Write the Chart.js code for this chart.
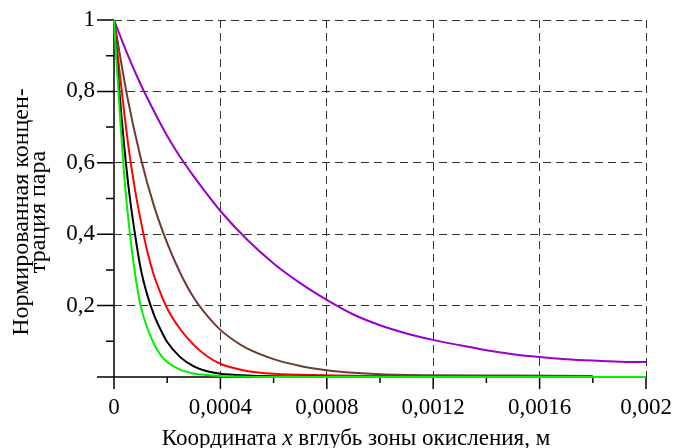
<!DOCTYPE html>
<html>
<head>
<meta charset="utf-8">
<script src="https://cdn.jsdelivr.net/npm/chart.js@4.4.0/dist/chart.umd.min.js"></script>
<style>
  html, body { margin: 0; padding: 0; background: #fff; }
</style>
</head>
<body>
<canvas id="chart" width="681" height="448"></canvas>
<script>
// ── Data ─────────────────────────────────────────────────────
const xTickLabels = ['0', '0,0004', '0,0008', '0,0012', '0,0016', '0,002'];
const yTickLabels = ['0,2', '0,4', '0,6', '0,8', '1'];

const greenX = [0, 0.00002, 0.00004, 0.00006, 0.00008, 0.0001, 0.000125, 0.00015, 0.000175, 0.0002, 0.00025, 0.0003, 0.0004, 0.0005, 0.0006, 0.002];
const greenY = [1, 0.76, 0.55, 0.4, 0.285, 0.2, 0.138, 0.093, 0.062, 0.042, 0.02, 0.01, 0.003, 0.001, 0, 0];

const blackX = [0, 0.00002, 0.00004, 0.00006, 0.00008, 0.0001, 0.000125, 0.00015, 0.000175, 0.0002, 0.00025, 0.0003, 0.00035, 0.0004, 0.0005, 0.0006, 0.0008];
const blackY = [1, 0.8, 0.635, 0.5, 0.395, 0.305, 0.23, 0.175, 0.133, 0.098, 0.055, 0.03, 0.016, 0.009, 0.004, 0.002, 0.001];

const redX = [0, 0.00002, 0.00004, 0.00006, 0.00008, 0.0001, 0.000125, 0.00015, 0.000175, 0.0002, 0.00025, 0.0003, 0.00035, 0.0004, 0.0005, 0.0006, 0.0008, 0.001, 0.00112];
const redY = [1, 0.86, 0.73, 0.615, 0.52, 0.44, 0.352, 0.285, 0.235, 0.192, 0.133, 0.09, 0.058, 0.037, 0.017, 0.009, 0.005, 0.003, 0.003];

const brownX = [0, 0.00005, 0.0001, 0.00015, 0.0002, 0.00025, 0.0003, 0.00035, 0.0004, 0.00045, 0.0005, 0.0006, 0.0007, 0.0008, 0.0009, 0.001, 0.0012, 0.0015, 0.0018];
const brownY = [1, 0.785, 0.615, 0.48, 0.375, 0.29, 0.222, 0.172, 0.132, 0.103, 0.08, 0.05, 0.031, 0.019, 0.012, 0.008, 0.005, 0.004, 0.003];

const purpleX = [0, 0.00005, 0.0001, 0.00015, 0.0002, 0.00025, 0.0003, 0.00035, 0.0004, 0.0005, 0.0006, 0.0007, 0.0008, 0.0009, 0.001, 0.0011, 0.0012, 0.0013, 0.0014, 0.0015, 0.0016, 0.0017, 0.0018, 0.0019, 0.002];
const purpleY = [1, 0.905, 0.82, 0.745, 0.675, 0.615, 0.562, 0.512, 0.465, 0.385, 0.318, 0.263, 0.216, 0.175, 0.145, 0.122, 0.104, 0.089, 0.075, 0.064, 0.056, 0.05, 0.046, 0.043, 0.042];

const xTitleParts = [['Координата ', false], ['x', true], [' вглубь зоны окисления, м', false]];
const yTitleLines = ['Нормированная концен-', 'трация пара'];

// ── Helpers ──────────────────────────────────────────────────
const FONT = "'Liberation Serif', 'Times New Roman', serif";
const pts = (xs, ys) => xs.map((x, i) => ({ x, y: ys[i] }));

function curve(xs, ys, color) {
    return {
        data: pts(xs, ys),
        borderColor: color,
        borderWidth: 2,
        showLine: true, pointRadius: 0,
        cubicInterpolationMode: 'monotone',
        clip: 4,
    };
}

const majorOnly = ctx => (ctx.index % 2 === 0 && ctx.index > 0) ? '#333' : 'rgba(0,0,0,0)';

// keep the plot box where the reference has it
function noLabelPadding(s) {
    s.paddingTop = 0; s.paddingBottom = 0; s.paddingLeft = 0; s.paddingRight = 0;
}

// axes lines, tick marks and titles
const decor = {
    id: 'decor',
    beforeDatasetsDraw(chart) {
        const { ctx, scales: { x, y } } = chart;
        const left = x.getPixelForValue(0), bottom = y.getPixelForValue(0);
        ctx.save();
        ctx.strokeStyle = '#000';
        ctx.lineWidth = 1.5;
        ctx.beginPath();
        ctx.moveTo(left - 17, bottom); ctx.lineTo(x.getPixelForValue(0.002), bottom);
        ctx.moveTo(left, y.getPixelForValue(1)); ctx.lineTo(left, bottom);
        for (let k = 0; k <= 10; k++) {
            const py = y.getPixelForValue(k / 10);
            ctx.moveTo(left - (k % 2 === 0 ? 17 : 8), py); ctx.lineTo(left, py);
            const px = x.getPixelForValue(k * 0.0002);
            ctx.moveTo(px, bottom); ctx.lineTo(px, bottom + (k % 2 === 0 ? 12 : 6));
        }
        ctx.stroke();
        ctx.restore();
    },
    afterDraw(chart) {
        const { ctx } = chart;
        ctx.save();
        ctx.fillStyle = '#000';
        // x title
        ctx.textBaseline = 'alphabetic';
        ctx.textAlign = 'left';
        let total = 0;
        const widths = xTitleParts.map(([t, it]) => {
            ctx.font = (it ? 'italic ' : '') + '23px ' + FONT;
            const w = ctx.measureText(t).width; total += w; return w;
        });
        let cx = 356 - total / 2;
        xTitleParts.forEach(([t, it], i) => {
            ctx.font = (it ? 'italic ' : '') + '23px ' + FONT;
            ctx.fillText(t, cx, 445);
            cx += widths[i];
        });
        // y title, two rotated lines
        ctx.font = '24px ' + FONT;
        ctx.textAlign = 'center';
        [28, 45].forEach((bx, i) => {
            ctx.save();
            ctx.translate(bx, 212);
            ctx.rotate(-Math.PI / 2);
            ctx.fillText(yTitleLines[i], 0, 0);
            ctx.restore();
        });
        ctx.restore();
    },
};

new Chart(document.getElementById('chart'), {
    type: 'scatter',
    data: {
        datasets: [
            curve(greenX, greenY, '#00f000'),
            curve(blackX, blackY, '#000000'),
            curve(redX, redY, '#ff0000'),
            curve(brownX, brownY, '#6e3a33'),
            curve(purpleX, purpleY, '#9900cc'),
        ],
    },
    options: {
        responsive: false,
        animation: false,
        layout: { padding: { left: 0, top: 20, right: 35, bottom: 0 } },
        plugins: { legend: { display: false }, tooltip: { enabled: false } },
        scales: {
            x: {
                type: 'linear', min: 0, max: 0.002,
                afterBuildTicks: s => { s.ticks = Array.from({ length: 11 }, (_, i) => ({ value: i * 0.0002 })); },
                afterFit: s => { s.height = 71; noLabelPadding(s); },
                grid: { color: majorOnly, lineWidth: 1, drawTicks: false },
                border: { display: false, dash: [8, 5] },
                ticks: {
                    autoSkip: false, maxRotation: 0, padding: 17, color: '#000',
                    font: { family: FONT, size: 23 },
                    callback: (v, i) => (i % 2 === 0 ? xTickLabels[i / 2] : ''),
                },
            },
            y: {
                type: 'linear', min: 0, max: 1,
                afterBuildTicks: s => { s.ticks = Array.from({ length: 11 }, (_, i) => ({ value: i / 10 })); },
                afterFit: s => { s.width = 114; noLabelPadding(s); },
                grid: { color: majorOnly, lineWidth: 1, drawTicks: false },
                border: { display: false, dash: [8, 5] },
                ticks: {
                    autoSkip: false, padding: 19, color: '#000',
                    font: { family: FONT, size: 23 },
                    callback: (v, i) => (i % 2 === 0 && i > 0 ? yTickLabels[i / 2 - 1] : ''),
                },
            },
        },
    },
    plugins: [decor],
});
</script>
</body>
</html>
